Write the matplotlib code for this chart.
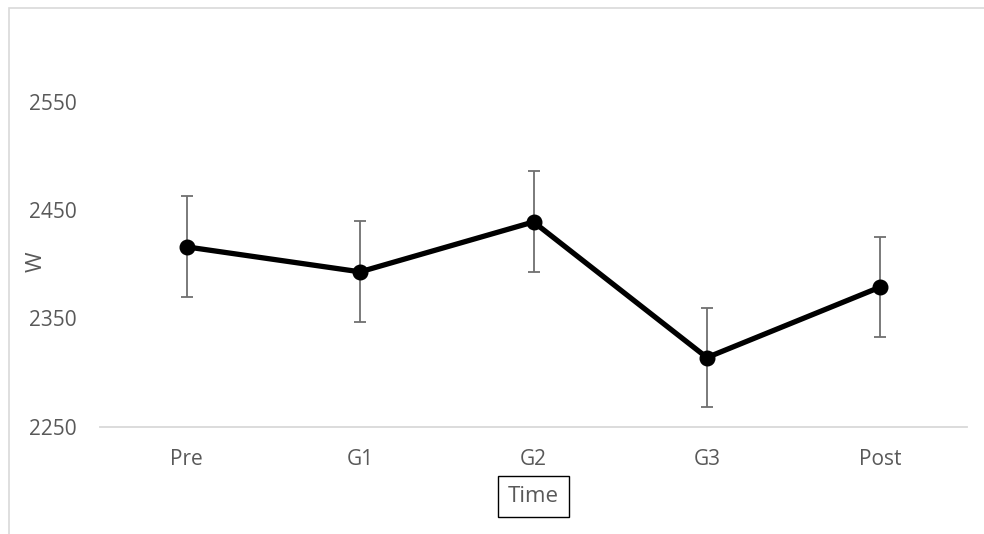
import matplotlib
matplotlib.use("Agg")
import matplotlib.pyplot as plt
from matplotlib.patches import Rectangle

categories = ["Pre", "G1", "G2", "G3", "Post"]
means = [2416, 2393, 2439, 2314, 2379]
errors = [46.5, 46.5, 46.5, 46, 46.5]
yticks = [2250, 2350, 2450, 2550]

W, H = 984, 534
fig = plt.figure(figsize=(W / 100, H / 100), dpi=100)
plt.rcParams['font.family'] = ['Open Sans', 'DejaVu Sans']

# chart area border (cropped on right/bottom)
fig.patches.append(Rectangle((9 / W, -0.1), 1.2, 1.1 - 8 / H,
                             transform=fig.transFigure, fill=False,
                             edgecolor='#d9d9d9', linewidth=1.2))

left, right = 100 / W, 967 / W
bottom = (H - 427) / H
ymin, ymax = 2250, 2600
top_px = 427 - (ymax - ymin) * 1.085
ax = fig.add_axes([left, bottom, right - left, (427 - top_px) / H])

x = list(range(len(categories)))
ax.errorbar(x, means, yerr=errors, fmt='none', ecolor='#6f6f6f',
            elinewidth=1.3, capsize=4.2, capthick=1.3, zorder=2)
ax.plot(x, means, color='black', linewidth=3.8, marker='o',
        markersize=10.5, zorder=3, solid_capstyle='round')

ax.set_xlim(-0.5, len(categories) - 0.5)
ax.set_ylim(ymin, ymax)
ax.set_xticks(x)
ax.set_xticklabels(categories)
ax.set_yticks(yticks)
for s in ['top', 'right', 'left']:
    ax.spines[s].set_visible(False)
ax.spines['bottom'].set_color('#d9d9d9')
ax.spines['bottom'].set_linewidth(1.3)
ax.tick_params(axis='both', length=0, labelcolor='#595959', labelsize=15)
ax.tick_params(axis='x', pad=16)
ax.tick_params(axis='y', pad=17)

fig.text(36 / W, 1 - 262 / H, "W", rotation=90, ha='center', va='center',
         color='#595959', fontsize=16)
fig.text(533 / W, 1 - 496 / H, "Time", ha='center', va='center',
         color='#595959', fontsize=16,
         bbox=dict(boxstyle='square,pad=0.45', facecolor='white',
                   edgecolor='black', linewidth=1.0))

fig.savefig("out.png", dpi=100)
